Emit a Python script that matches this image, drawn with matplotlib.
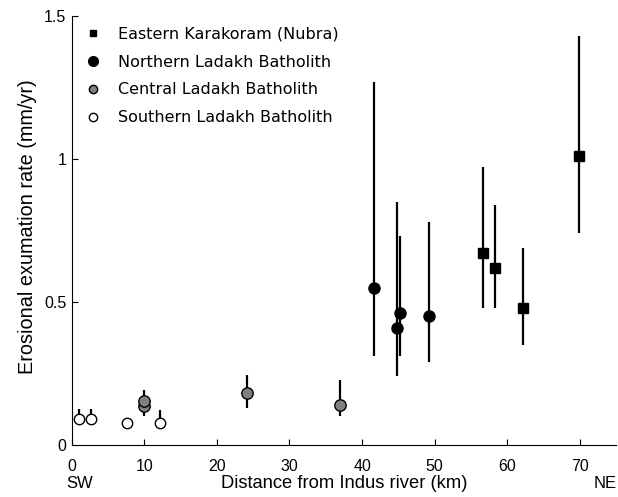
import numpy as np
import matplotlib
matplotlib.use("Agg")
import matplotlib.pyplot as plt
from matplotlib.lines import Line2D

# Eastern Karakoram (Nubra)
ek_x=[56.6, 58.3, 62.2, 69.9]
ek_y=[0.67, 0.62, 0.48, 1.01]
ek_lo=[0.48, 0.48, 0.35, 0.74]
ek_hi=[0.97, 0.84, 0.69, 1.43]
# Northern Ladakh Batholith
nl_x=[41.7, 44.8, 45.2, 49.2]
nl_y=[0.55, 0.41, 0.46, 0.45]
nl_lo=[0.31, 0.24, 0.31, 0.29]
nl_hi=[1.27, 0.85, 0.73, 0.78]
# Central Ladakh Batholith
cl_x=[9.9, 10.0, 24.2, 36.9]
cl_y=[0.135, 0.152, 0.18, 0.14]
cl_lo=[0.10, 0.12, 0.13, 0.10]
cl_hi=[0.17, 0.19, 0.245, 0.225]
# Southern Ladakh Batholith
sl_x=[1.0, 2.7, 7.6, 12.2]
sl_y=[0.09, 0.09, 0.078, 0.078]
sl_lo=[0.07, 0.07, 0.06, 0.06]
sl_hi=[0.125, 0.125, 0.095, 0.122]

legend_labels=["Eastern Karakoram (Nubra)", "Northern Ladakh Batholith",
               "Central Ladakh Batholith", "Southern Ladakh Batholith"]

fig=plt.figure(figsize=(6.18, 4.97), dpi=100)
ax=fig.add_axes([0.116, 0.105, 0.881, 0.863])

def yerr(y, lo, hi):
    y=np.array(y)
    return [y-np.array(lo), np.array(hi)-y]

ax.errorbar(sl_x, sl_y, yerr=yerr(sl_y, sl_lo, sl_hi), fmt="o", ms=7.5, mfc="white", mec="black", mew=1.0,
            ecolor="black", elinewidth=1.6, capsize=0, zorder=3)
ax.errorbar(cl_x, cl_y, yerr=yerr(cl_y, cl_lo, cl_hi), fmt="o", ms=8.2, mfc="#808080", mec="black", mew=1.0,
            ecolor="black", elinewidth=1.6, capsize=0, zorder=3)
ax.errorbar(nl_x, nl_y, yerr=yerr(nl_y, nl_lo, nl_hi), fmt="o", ms=8, mfc="black", mec="black",
            ecolor="black", elinewidth=1.6, capsize=0, zorder=3)
ax.errorbar(ek_x, ek_y, yerr=yerr(ek_y, ek_lo, ek_hi), fmt="s", ms=6.5, mfc="black", mec="black",
            ecolor="black", elinewidth=1.6, capsize=0, zorder=3)

ax.set_xlim(0, 75)
ax.set_ylim(0, 1.5)
ax.set_xticks(range(0, 80, 10))
ax.set_yticks([0, 0.5, 1, 1.5])
ax.set_yticklabels(["0", "0.5", "1", "1.5"])
for s in ["top", "right"]:
    ax.spines[s].set_visible(False)
ax.tick_params(direction="in", length=4, labelsize=11.5)
ax.tick_params(axis="x", pad=10)
ax.tick_params(axis="y", pad=4)
for lab in ax.get_xticklabels()+ax.get_yticklabels():
    lab.set_family("Liberation Sans")
ax.set_xlabel("Distance from Indus river (km)", family="Liberation Sans", fontsize=13.2, labelpad=1)
ax.set_ylabel("Erosional exumation rate (mm/yr)", family="Liberation Sans", fontsize=14.3)
ax.yaxis.set_label_coords(-0.064, 0.509)
fig.text(0.108, 0.028, "SW", family="Liberation Sans", fontsize=12, va="center")
fig.text(0.998, 0.028, "NE", family="Liberation Sans", fontsize=12, va="center", ha="right")

handles=[Line2D([], [], ls="", marker="s", ms=5, mfc="black", mec="black"),
         Line2D([], [], ls="", marker="o", ms=7, mfc="black", mec="black"),
         Line2D([], [], ls="", marker="o", ms=6, mfc="#808080", mec="black"),
         Line2D([], [], ls="", marker="o", ms=6, mfc="white", mec="black")]
ax.legend(handles, legend_labels, loc="upper left", frameon=False, fontsize=11.5,
          bbox_to_anchor=(-0.008, 0.997), handletextpad=0.55, labelspacing=0.8, borderaxespad=0.2)

fig.savefig("out.png", dpi=100)
